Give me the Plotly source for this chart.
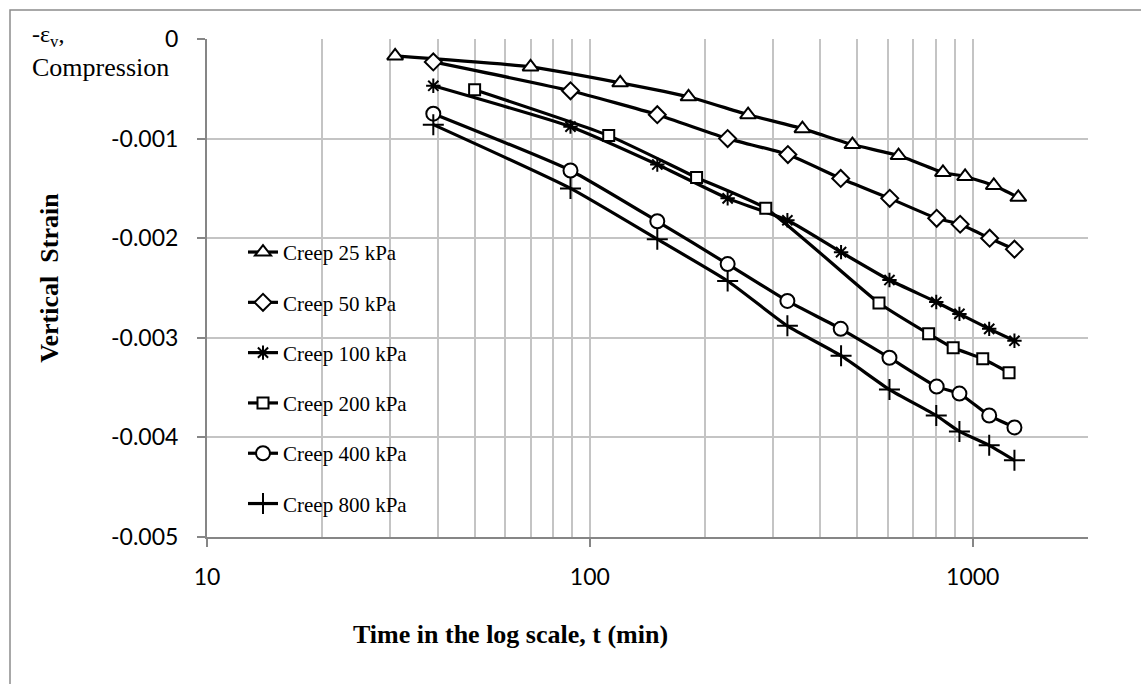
import plotly.graph_objects as go
import math

# Creep tests: elapsed time (min) and vertical strain (negative = compression)
t_25 = [31, 70, 120, 181, 259, 359, 485, 640, 836, 955, 1135, 1315]
e_25 = [-0.00017, -0.00028, -0.00044, -0.00058, -0.00076, -0.00090,
        -0.00106, -0.00117, -0.00134, -0.00138, -0.00147, -0.00159]

t_50 = [39, 89, 150, 229, 329, 452, 607, 805, 927, 1107, 1285]
e_50 = [-0.00023, -0.00052, -0.00076, -0.00100, -0.00116, -0.00140,
        -0.00160, -0.00180, -0.00186, -0.00200, -0.00211]

t_100 = [39, 89, 150, 229, 328, 453, 606, 803, 923, 1104, 1285]
e_100 = [-0.00047, -0.00088, -0.00126, -0.00160, -0.00182, -0.00214,
         -0.00242, -0.00264, -0.00276, -0.00291, -0.00303]

t_200 = [50, 112, 190, 288, 569, 767, 889, 1062, 1244]
e_200 = [-0.00051, -0.00097, -0.00139, -0.00170, -0.00265, -0.00296,
         -0.00310, -0.00321, -0.00335]

t_400 = [39, 89, 150, 229, 328, 452, 606, 805, 923, 1104, 1285]
e_400 = [-0.00075, -0.00132, -0.00183, -0.00226, -0.00263, -0.00291,
         -0.00320, -0.00349, -0.00356, -0.00378, -0.00390]

t_800 = [39, 89, 150, 229, 328, 453, 606, 803, 923, 1104, 1285]
e_800 = [-0.00086, -0.00150, -0.00201, -0.00243, -0.00288, -0.00318,
         -0.00352, -0.00378, -0.00394, -0.00408, -0.00423]

series_names = ["Creep 25 kPa", "Creep 50 kPa", "Creep 100 kPa",
                "Creep 200 kPa", "Creep 400 kPa", "Creep 800 kPa"]
y_ticks = [0, -0.001, -0.002, -0.003, -0.004, -0.005]
y_tick_text = ["0", "-0.001", "-0.002", "-0.003", "-0.004", "-0.005"]
x_ticks = [10, 100, 1000]

SERIF = "Liberation Serif, Times New Roman, serif"
SANS = "Lato, Carlito, Calibri, sans-serif"

styles = [
    dict(symbol="triangle-up", size=14),
    dict(symbol="diamond", size=13),
    dict(symbol="asterisk", size=12),
    dict(symbol="square", size=11),
    dict(symbol="circle", size=14),
    dict(symbol="cross-thin", size=15),
]

fig = go.Figure()
data = [(t_25, e_25), (t_50, e_50), (t_100, e_100),
        (t_200, e_200), (t_400, e_400), (t_800, e_800)]
for i, ((t, e), name, st) in enumerate(zip(data, series_names, styles)):
    fig.add_trace(go.Scatter(
        x=t, y=e, name=name, mode="lines+markers",
        legendgroup=f"g{i}",
        line=dict(color="black", width=3.2, shape="spline", smoothing=0.5),
        marker=dict(symbol=st["symbol"], size=st["size"], color="white",
                    line=dict(color="black", width=2)),
    ))

# white panel behind the legend, above the gridlines
fig.add_shape(type="rect", xref="paper", yref="paper", layer="between",
              x0=0, x1=(420 - 207) / 881, y0=(537.3 - 523) / 498.3,
              y1=(537.3 - 230) / 498.3,
              fillcolor="white", line=dict(width=0))

# outer chart frame
fig.add_shape(type="rect", xref="paper", yref="paper", layer="above",
              x0=(10 - 207) / 881, x1=1.2, y0=-0.5, y1=(537.3 - 10) / 498.3,
              fillcolor="rgba(0,0,0,0)", line=dict(color="#8c8c8c", width=1.5))

fig.update_xaxes(
    type="log", range=[1, math.log10(2000)],
    tickvals=x_ticks, ticktext=[str(v) for v in x_ticks],
    ticks="outside", ticklen=8, tickwidth=1.5, tickcolor="#868686",
    showline=True, linecolor="#868686", linewidth=2,
    showgrid=True, gridcolor="#c4c4c4", gridwidth=2,
    minor=dict(dtick="D1", showgrid=True, gridcolor="#c4c4c4", gridwidth=2, ticks=""),
    tickfont=dict(family=SANS, size=23, color="black"),
    ticklabelstandoff=10,
    zeroline=False,
)
fig.update_yaxes(
    range=[-0.005, 0], tickvals=y_ticks, ticktext=y_tick_text,
    ticks="outside", ticklen=8, tickwidth=1.5, tickcolor="#868686",
    showline=True, linecolor="#868686", linewidth=2,
    showgrid=True, gridcolor="#c4c4c4", gridwidth=2,
    tickfont=dict(family=SANS, size=23, color="black"),
    ticklabelstandoff=14,
    zeroline=False,
)

fig.add_annotation(text="-ε<sub>v</sub>,", xref="paper", yref="paper",
                   x=(30 - 207) / 881, y=(537.3 - 36) / 498.3,
                   xanchor="left", yanchor="middle", showarrow=False,
                   font=dict(family=SERIF, size=24, color="black"))
fig.add_annotation(text="Compression", xref="paper", yref="paper",
                   x=(30 - 207) / 881, y=(537.3 - 68) / 498.3,
                   xanchor="left", yanchor="middle", showarrow=False,
                   font=dict(family=SERIF, size=26, color="black"))
fig.add_annotation(text="<b>Vertical  Strain</b>", xref="paper", yref="paper",
                   x=(50 - 207) / 881, y=(537.3 - 278) / 498.3, textangle=-90,
                   xanchor="center", yanchor="middle", showarrow=False,
                   font=dict(family=SERIF, size=26, color="black"))
fig.add_annotation(text="<b>Time in the log scale, t (min)</b>", xref="paper", yref="paper",
                   x=(510 - 207) / 881, y=(537.3 - 635) / 498.3,
                   xanchor="center", yanchor="middle", showarrow=False,
                   font=dict(family=SERIF, size=26, color="black"))

fig.update_layout(
    width=1141, height=684,
    margin=dict(l=207, r=53, t=39, b=147),
    plot_bgcolor="white", paper_bgcolor="white",
    showlegend=True,
    legend=dict(x=(243 - 207) / 881, y=(537.3 - 232) / 498.3,
                xanchor="left", yanchor="top",
                bgcolor="rgba(0,0,0,0)", borderwidth=0,
                tracegroupgap=20,
                font=dict(family=SERIF, size=21, color="black")),
)

fig.write_html("out.html")
